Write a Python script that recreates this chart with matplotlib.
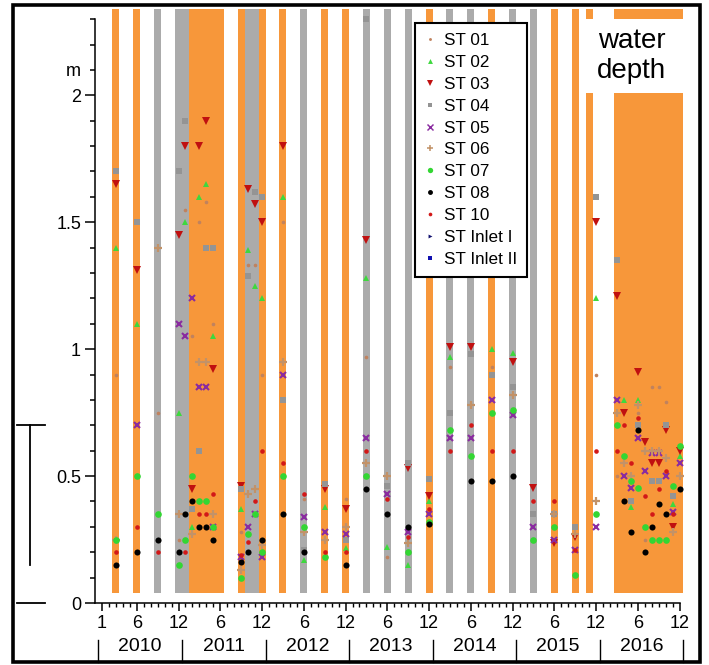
import numpy as np
import matplotlib
matplotlib.use("Agg")
import matplotlib.pyplot as plt
from matplotlib.lines import Line2D
from matplotlib.patches import Rectangle
import matplotlib.transforms as mtransforms
from matplotlib.ticker import FixedLocator, FuncFormatter

plt.rcParams['font.family'] = ['Liberation Sans', 'DejaVu Sans']

# ---------------- data ----------------
sample_months = ["2010-03", "2010-06", "2010-09", "2010-12", "2011-01", "2011-02", "2011-03",
                 "2011-04", "2011-05", "2011-09", "2011-10", "2011-11", "2011-12", "2012-03",
                 "2012-06", "2012-09", "2012-12", "2013-03", "2013-06", "2013-09", "2013-12",
                 "2014-03", "2014-06", "2014-09", "2014-12", "2015-03", "2015-06", "2015-09",
                 "2015-12", "2016-03", "2016-04", "2016-05", "2016-06", "2016-07", "2016-08",
                 "2016-09", "2016-10", "2016-11", "2016-12"]
N = None
st01 = [0.90, N, 0.75, 0.25, 1.55, 1.05, 1.50, 1.58, 1.10, 0.28, 1.33, 1.33, 0.90, 1.50, 0.41, N,
        0.41, 0.97, 0.18, N, N, 0.93, N, 0.93, N, N, N, N, 0.90, 0.50, N, N, 0.75, 0.25, 0.85,
        0.85, 0.79, N, N]
st02 = [1.40, 1.10, N, 0.75, 1.50, 0.30, 1.60, 1.65, 1.05, 0.37, 1.39, 1.25, 1.20, 1.60, 0.17,
        0.38, 0.215, 1.28, 0.22, 0.15, 0.40, 0.97, N, 1.00, 0.985, N, N, N, 1.20, N, 0.80, 0.38,
        0.80, N, N, N, N, 0.39, 0.58]
st03 = [1.65, 1.31, N, 1.45, 1.80, 0.45, 1.80, 1.90, 0.92, 0.46, 1.63, 1.57, 1.50, 1.80, N,
        0.45, 0.37, 1.43, N, 0.53, 0.42, 1.01, 1.01, N, 0.95, 0.455, 0.235, 0.26, 1.50, 1.21,
        0.75, N, 0.91, 0.635, 0.55, 0.55, 0.68, 0.30, 0.60]
st04 = [1.70, 1.50, N, 1.70, 1.90, 0.37, 0.60, 1.40, 1.40, 0.45, 1.29, 1.62, 1.60, 0.80, 0.21,
        0.47, 0.25, 2.30, 0.46, 0.55, 0.49, 0.75, 0.98, 0.90, 0.85, 0.35, 0.35, 0.30, 1.60, 1.35,
        N, 0.40, 0.70, N, 0.48, 0.48, 0.70, 0.42, N]
st05 = [N, 0.70, N, 1.10, 1.05, 1.20, 0.85, 0.85, 0.30, 0.18, 0.30, 0.35, 0.18, 0.90, 0.34,
        0.28, 0.27, 0.65, 0.43, 0.28, 0.35, 0.65, 0.65, 0.80, 0.74, 0.30, 0.25, 0.21, 0.30, 0.80,
        0.50, 0.455, 0.65, 0.52, 0.59, 0.59, 0.50, 0.36, 0.55]
st06 = [0.25, N, 1.40, 0.35, N, 0.27, 0.95, 0.95, 0.35, 0.13, 0.43, 0.45, 0.23, 0.95, 0.28,
        0.25, 0.30, 0.55, 0.50, 0.235, N, N, 0.78, N, 0.82, N, 0.35, 0.27, 0.40, 0.75, 0.55,
        0.50, 0.78, 0.60, 0.60, 0.60, 0.57, 0.28, 0.50]
st07 = [0.25, 0.50, 0.35, 0.15, 0.25, 0.50, 0.40, 0.40, 0.30, 0.10, 0.27, 0.35, 0.20, 0.50,
        0.30, 0.18, N, 0.50, N, 0.20, 0.32, 0.68, 0.58, 0.75, 0.76, 0.25, 0.30, 0.11, 0.35, 0.70,
        0.58, 0.48, 0.455, 0.30, 0.25, 0.25, 0.25, 0.46, 0.62]
st08 = [0.15, 0.20, 0.25, 0.20, 0.35, 0.40, 0.30, 0.30, 0.25, 0.16, 0.20, N, 0.25, 0.35, 0.20,
        N, 0.15, 0.45, 0.35, 0.30, 0.31, N, 0.48, 0.48, 0.50, N, N, N, N, N, 0.40, 0.28, 0.68,
        0.20, 0.30, 0.39, 0.35, N, 0.45]
st10 = [0.20, 0.30, 0.20, N, 0.20, N, 0.35, 0.35, 0.43, 0.19, 0.24, 0.40, 0.60, 0.55, 0.43,
        0.20, 0.20, 0.60, 0.41, 0.26, 0.37, 0.60, 0.70, 0.60, 0.60, 0.40, 0.40, 0.21, 0.60, 0.60,
        0.70, 0.55, 0.73, 0.42, 0.35, 0.45, 0.52, 0.35, N]
st_inlet1 = [N] * len(sample_months)
st_inlet2 = [N] * len(sample_months)

station_names = ["ST 01", "ST 02", "ST 03", "ST 04", "ST 05", "ST 06", "ST 07", "ST 08",
                 "ST 10", "ST Inlet I", "ST Inlet II"]
station_values = [st01, st02, st03, st04, st05, st06, st07, st08, st10, st_inlet1, st_inlet2]

orange_periods = [("2010-03", "2010-03"), ("2010-06", "2010-06"), ("2011-02", "2011-06"),
                  ("2011-09", "2011-09"), ("2011-12", "2011-12"), ("2012-03", "2012-03"),
                  ("2012-09", "2012-09"), ("2012-12", "2012-12"), ("2013-12", "2013-12"),
                  ("2014-09", "2014-09"), ("2015-06", "2015-06"), ("2015-09", "2015-09"),
                  ("2015-11", "2015-11"), ("2016-03", "2016-12")]
gray_periods = [("2010-09", "2010-09"), ("2010-12", "2011-01"), ("2011-10", "2011-11"),
                ("2012-06", "2012-06"), ("2013-03", "2013-03"), ("2013-06", "2013-06"),
                ("2013-09", "2013-09"), ("2014-03", "2014-03"), ("2014-06", "2014-06"),
                ("2014-12", "2014-12"), ("2015-03", "2015-03")]

years = [2010, 2011, 2012, 2013, 2014, 2015, 2016]
month_ticks = ["2010-01", "2010-06", "2010-12", "2011-06", "2011-12", "2012-06", "2012-12",
               "2013-06", "2013-12", "2014-06", "2014-12", "2015-06", "2015-12", "2016-06",
               "2016-12"]
month_tick_labels = ["1", "6", "12", "6", "12", "6", "12", "6", "12", "6", "12", "6", "12",
                     "6", "12"]
y_ticks = [0, 0.5, 1, 1.5, 2]
y_tick_labels = ["0", "0.5", "1", "1.5", "2"]


def midx(s):
    y, m = s.split("-")
    return (int(y) - 2010) * 12 + int(m) - 1


# ---------------- styles ----------------
ORANGE = "#F7973A"
GRAY = "#ABABAB"
styles = {
    "ST 01": dict(marker="o", color="#C0825E", ms=2.6, mew=0),
    "ST 02": dict(marker="^", color="#3ED83E", ms=4.4, mew=0),
    "ST 03": dict(marker="v", color="#C01010", ms=5.4, mew=0),
    "ST 04": dict(marker="s", color="#949494", ms=4.0, mew=0),
    "ST 05": dict(marker="x", color="#8A2BA0", ms=4.6, mew=1.5),
    "ST 06": dict(marker="+", color="#C29268", ms=6.0, mew=1.6),
    "ST 07": dict(marker="o", color="#33D633", ms=4.8, mew=0),
    "ST 08": dict(marker="o", color="#000000", ms=4.4, mew=0),
    "ST 10": dict(marker="o", color="#D21818", ms=3.3, mew=0),
    "ST Inlet I": dict(marker=">", color="#10106E", ms=3.5, mew=0),
    "ST Inlet II": dict(marker="s", color="#1010B0", ms=3.5, mew=0),
}

W, H = 709, 665
fig = plt.figure(figsize=(W / 100, H / 100), dpi=100)
ax = fig.add_axes([95 / W, (H - 603) / H, (698 - 95) / W, (603 - 9) / H])
ax.set_xlim(-1.0, -1.0 + (698 - 95) / 6.96)
ax.set_ylim(0, 2.34)

# background periods
for s, e in orange_periods:
    ax.bar(midx(s) - 0.5, 3.0, bottom=0.04, width=midx(e) - midx(s) + 1, align="edge",
           color=ORANGE, linewidth=0, zorder=1)
for s, e in gray_periods:
    ax.bar(midx(s) - 0.5, 3.0, bottom=0.04, width=midx(e) - midx(s) + 1, align="edge",
           color=GRAY, linewidth=0, zorder=1)

# label box "water depth"
ax.add_patch(Rectangle((69.2, 2.01), 16.0, 0.29, facecolor="white", edgecolor="none", zorder=2))
ax.text(76.1, 2.155, "water\ndepth", ha="center", va="center", fontsize=20, zorder=3)

# data
x_samples = np.array([midx(s) for s in sample_months], dtype=float)
for name, vals in zip(station_names, station_values):
    y = np.array([np.nan if v is None else v for v in vals], dtype=float)
    st = styles[name]
    ax.plot(x_samples, y, linestyle="none", marker=st["marker"], color=st["color"],
            markersize=st["ms"], markeredgewidth=st["mew"], zorder=4, clip_on=False)

# axes styling
for sp in ["top", "right"]:
    ax.spines[sp].set_visible(False)
ax.spines["left"].set_bounds(0, 2.3)
ax.spines["bottom"].set_bounds(-1, 83)
for sp in ["left", "bottom"]:
    ax.spines[sp].set_linewidth(1.1)

ax.set_yticks(y_ticks)
ax.set_yticklabels(y_tick_labels)
ax.yaxis.set_minor_locator(FixedLocator([round(0.1 * i, 1) for i in range(1, 24)]))
ax.yaxis.set_minor_formatter(FuncFormatter(lambda v, p: "m" if abs(v - 2.1) < 1e-6 else ""))
ax.tick_params(axis="y", which="major", length=7, width=1.1, labelsize=13, pad=3)
ax.tick_params(axis="y", which="minor", length=3.5, width=1.1, labelsize=13, pad=6.5)

ax.set_xticks([midx(m) for m in month_ticks])
ax.set_xticklabels(month_tick_labels)
ax.set_xticks(range(0, 84), minor=True)
ax.tick_params(axis="x", which="major", length=6, width=1.1, labelsize=13, pad=3)
ax.tick_params(axis="x", which="minor", length=3, width=1.0)

blend_x = mtransforms.blended_transform_factory(ax.transData, ax.transAxes)
for k, yr in enumerate(years):
    ax.text(5.5 + 12 * k, -0.074, str(yr), transform=blend_x, ha="center", va="center",
            fontsize=14)
for k in range(len(years) + 1):
    xs = -0.5 + 12 * k
    ax.plot([xs, xs], [-0.062, -0.0995], transform=blend_x, clip_on=False, color="black",
            lw=1.0)

# scale bar at the left
blend_y = mtransforms.blended_transform_factory(ax.transAxes, ax.transData)
ax.plot([-0.1078, -0.1078], [0.15, 0.70], transform=blend_y, clip_on=False, color="black", lw=1.3)
ax.plot([-0.1294, -0.0829], [0.70, 0.70], transform=blend_y, clip_on=False, color="black", lw=1.3)
ax.plot([-0.1294, -0.0829], [0.0, 0.0], transform=blend_y, clip_on=False, color="black", lw=1.3)

# legend
handles = [Line2D([], [], linestyle="none", marker=styles[n]["marker"], color=styles[n]["color"],
                  markersize=styles[n]["ms"] * 0.8, markeredgewidth=styles[n]["mew"] * 0.7)
           for n in station_names]
leg = fig.legend(handles, station_names, loc="upper left", bbox_to_anchor=(415 / W, 1 - 23 / H),
                 fontsize=12.3, frameon=True, fancybox=False, edgecolor="black", framealpha=1,
                 handlelength=0.6, handletextpad=0.5, labelspacing=0.4, borderpad=0.6,
                 borderaxespad=0)
leg.get_frame().set_linewidth(1.5)

# outer frame
fig.add_artist(Rectangle((13 / W, 3 / H), (700 - 13) / W, (662 - 5) / H, transform=fig.transFigure,
                         fill=False, edgecolor="black", linewidth=2.6))

fig.savefig("out.png", dpi=100)
